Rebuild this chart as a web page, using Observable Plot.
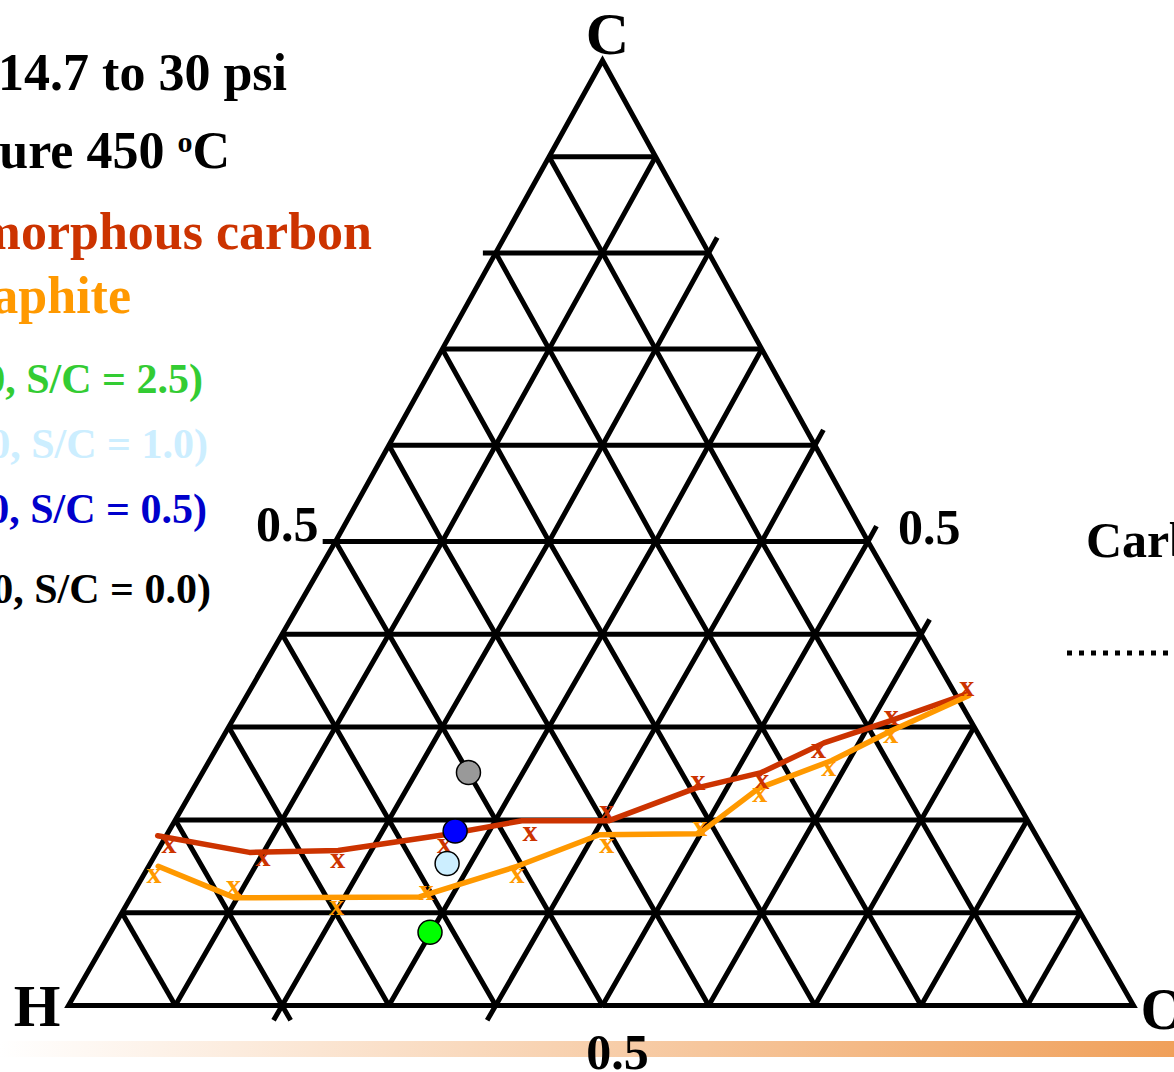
<!DOCTYPE html>
<html>
<head>
<meta charset="utf-8">
<script src="https://cdn.jsdelivr.net/npm/d3@7"></script>
<script src="https://cdn.jsdelivr.net/npm/@observablehq/plot@0.6"></script>
<style>
html, body { margin: 0; padding: 0; background: #fff; overflow: hidden; }
#wrap { position: relative; width: 1174px; height: 1072px; overflow: hidden; }
#bar { position: absolute; left: 0; top: 1041px; width: 1174px; height: 16px;
       background: linear-gradient(to right, #ffffff, #f0a05a); }
#chart { position: absolute; left: 0; top: 0; }
</style>
</head>
<body>
<div id="wrap"><div id="bar"></div><div id="chart"></div></div>
<script>
// ---------------- data (mole fractions of C and O; H = 1 - C - O) ----------------
const amorphousLineC = [0.183, 0.165, 0.167, 0.184, 0.199, 0.199, 0.234, 0.251, 0.283, 0.307, 0.336];
const amorphousLineO = [-0.008, 0.087, 0.169, 0.260, 0.325, 0.406, 0.470, 0.524, 0.567, 0.618, 0.676];
const amorphousPtsC  = [0.172, 0.158, 0.156, 0.172, 0.186, 0.208, 0.240, 0.242, 0.275, 0.310, 0.342];
const amorphousPtsO  = [0.008, 0.103, 0.174, 0.266, 0.339, 0.400, 0.470, 0.529, 0.566, 0.617, 0.672];

const graphiteLineC = [0.150, 0.116, 0.117, 0.150, 0.184, 0.185, 0.234, 0.264, 0.296, 0.334];
const graphiteLineO = [0.009, 0.098, 0.270, 0.345, 0.405, 0.498, 0.530, 0.584, 0.624, 0.678];
const graphitePtsC  = [0.140, 0.127, 0.106, 0.122, 0.140, 0.172, 0.191, 0.228, 0.256, 0.291];
const graphitePtsO  = [0.010, 0.091, 0.198, 0.274, 0.350, 0.418, 0.496, 0.534, 0.585, 0.626];

const feedNames = ["S/C = 2.5", "S/C = 1.0", "S/C = 0.5", "S/C = 0.0"];
const feedC = [0.079, 0.153, 0.188, 0.251];
const feedO = [0.299, 0.278, 0.268, 0.249];

const vertexNames = ["C", "H", "O"];
const tickLabel = "0.5";

const legendTexts = [
  "Pressure 14.7 to 30 psi",
  "Temperature 450 ",
  "Amorphous carbon",
  "Graphite",
  "0, S/C = 2.5)",
  "0, S/C = 1.0)",
  "0, S/C = 0.5)",
  "0, S/C = 0.0)"
];
const sideLabel = "Carbon";

// ---------------- styles ----------------
const RED = "#cc3300", ORANGE = "#ff9900";
const feedFill = ["#00ff00", "#cceeff", "#0000ff", "#999999"];
const legendColors = ["#000", "#000", RED, ORANGE, "#33cc33", "#cceeff", "#0000cc", "#000"];
const FONT = "Liberation Serif, Times New Roman, serif";

// ---------------- helpers ----------------
// the hand-drawn triangle is slightly uneven: lower half a bit squashed
const warpY = v => v <= 0.5 ? v * (928 / 945) : (464 + (v - 0.5) * 962) / 945;
const warpX = u => u <= 0.5 ? u * (1068 / 1065) : (534 + (u - 0.5) * 1062) / 1065;
const tern = (c, o) => ({u: warpX(o + c / 2), v: warpY(c)});
const zip = (C, O) => C.map((c, i) => ({...tern(c, O[i]), c, o: O[i]}));

// grid lines
const ticks = d3.range(1, 10).map(k => +(k / 10).toFixed(1));
const steps = d3.range(0, 11).map(k => +(k / 10).toFixed(1));
const ext = 0.016;
const overshoot = { // which grid lines stick out past the frame (start / end)
  "o0.2": ["start", "end"], "h0.8": ["start"], "o0.4": ["start", "end"],
  "o0.5": ["end"], "o0.6": ["end"], "c0.5": ["start"], "c0.8": ["start"]
};
const grid = [];
function addLine(id, pts) {
  const os = overshoot[id] || [];
  if (os.includes("start")) grid.push({id, ...pts.pre});
  pts.list.forEach(p => grid.push({id, ...p}));
  if (os.includes("end")) grid.push({id, ...pts.post});
}
ticks.forEach(t => {
  // constant carbon (horizontal)
  addLine(`c${t}`, {
    pre: tern(t, -0.012), post: tern(t, 1 - t + 0.01),
    list: [tern(t, 0), tern(t, 1 - t)]
  });
  // constant oxygen
  const cs = steps.filter(c => c <= 1 - t + 1e-9);
  addLine(`o${t}`, {
    pre: tern(-ext, t), post: tern(1 - t + ext, t),
    list: cs.map(c => tern(c, t))
  });
  // constant hydrogen
  addLine(`h${t}`, {
    pre: tern(-ext, 1 - t + ext), post: tern(1 - t + ext, -ext),
    list: cs.map(c => tern(c, 1 - t - c))
  });
});

// triangle frame (starts mid-bottom so every corner is a join)
const frame = [tern(0, 0.5), tern(0, 1)]
  .concat(steps.slice(1).map(c => tern(c, 1 - c)))
  .concat(steps.slice(0, 10).reverse().map(c => tern(c, 0)))
  .concat([tern(0, 0.5)]);

const amorphousLine = zip(amorphousLineC, amorphousLineO);
const amorphousPts = zip(amorphousPtsC, amorphousPtsO);
const graphiteLine = zip(graphiteLineC, graphiteLineO);
const graphitePts = zip(graphitePtsC, graphitePtsO);
const feed = feedNames.map((n, i) => ({name: n, ...tern(feedC[i], feedO[i]), fill: feedFill[i]}));

const vertices = [
  {label: vertexNames[0], ...tern(1, 0), anchor: "middle", dx: 5, dy: -7},
  {label: vertexNames[1], ...tern(0, 0), anchor: "end", dx: -8, dy: 20},
  {label: vertexNames[2], ...tern(0, 1), anchor: "start", dx: 7, dy: 23}
];
const half = [
  {...tern(0.5, 0), anchor: "end", dx: -17, dy: -1},
  {...tern(0.5, 0.5), anchor: "start", dx: 30, dy: 2},
  {...tern(0, 0.5), anchor: "middle", dx: 15, dy: 63}
];

const plot = Plot.plot({
  width: 1174,
  height: 1072,
  margin: 0,
  x: {domain: [0, 1], range: [68, 1133], axis: null},
  y: {domain: [0, 1], range: [1005, 60], axis: null},
  style: {background: "transparent", overflow: "hidden"},
  marks: [
    Plot.line(grid, {x: "u", y: "v", z: "id", stroke: "#000", strokeWidth: 5,
                     strokeLinecap: "butt", strokeLinejoin: "round"}),
    Plot.line(frame, {x: "u", y: "v", stroke: "#000", strokeWidth: 5,
                      strokeLinejoin: "miter", strokeMiterlimit: 10, strokeLinecap: "butt"}),
    Plot.line(amorphousLine, {x: "u", y: "v", stroke: RED, strokeWidth: 5.5}),
    Plot.line(graphiteLine, {x: "u", y: "v", stroke: ORANGE, strokeWidth: 5.5}),
    Plot.text(amorphousPts, {x: "u", y: "v", text: () => "x", fill: RED, fontSize: 30,
                             fontWeight: "bold", fontFamily: FONT, dy: -2}),
    Plot.text(graphitePts, {x: "u", y: "v", text: () => "x", fill: ORANGE, fontSize: 30,
                            fontWeight: "bold", fontFamily: FONT, dy: -2}),
    Plot.dot(feed, {x: "u", y: "v", r: 12, fill: "fill", stroke: "#000", strokeWidth: 1.5}),
    ...vertices.map(d => Plot.text([d], {x: "u", y: "v", text: "label", textAnchor: d.anchor,
        lineAnchor: "bottom", dx: d.dx, dy: d.dy, fontSize: 60, fontWeight: "bold",
        fontFamily: FONT, fill: "#000"})),
    ...half.map(d => Plot.text([d], {x: "u", y: "v", text: () => tickLabel, textAnchor: d.anchor,
        lineAnchor: "bottom", dx: d.dx, dy: d.dy, fontSize: 50, fontWeight: "bold",
        fontFamily: FONT, fill: "#000"}))
  ]
});
document.getElementById("chart").appendChild(plot);

// ---------------- annotations (legend block on the left, label on the right) ----------------
const svg = d3.select(plot);
const legendLayout = [
  {x: 287, y: 90, size: 52}, {x: 230, y: 168, size: 52},
  {x: 372, y: 249, size: 52}, {x: 131, y: 313, size: 52},
  {x: 203, y: 393, size: 42}, {x: 208, y: 458, size: 42},
  {x: 207, y: 523, size: 42}, {x: 211, y: 603, size: 42}
];
legendTexts.forEach((t, i) => {
  const L = legendLayout[i];
  const el = svg.append("text")
    .attr("x", L.x).attr("y", L.y)
    .attr("text-anchor", "end")
    .attr("font-family", FONT).attr("font-weight", "bold")
    .attr("font-size", L.size).attr("fill", legendColors[i]);
  if (i === 1) {
    el.append("tspan").text(t);
    el.append("tspan").attr("font-size", 30).attr("dy", -16).text("o");
    el.append("tspan").attr("dy", 16).text("C");
  } else {
    el.text(t);
  }
});
svg.append("text")
  .attr("x", 1086).attr("y", 557)
  .attr("text-anchor", "start")
  .attr("font-family", FONT).attr("font-weight", "bold")
  .attr("font-size", 50).attr("fill", "#000")
  .text(sideLabel);
svg.append("line")
  .attr("x1", 1067).attr("x2", 1180).attr("y1", 653).attr("y2", 653)
  .attr("stroke", "#000").attr("stroke-width", 5).attr("stroke-dasharray", "5 7");
</script>
</body>
</html>
